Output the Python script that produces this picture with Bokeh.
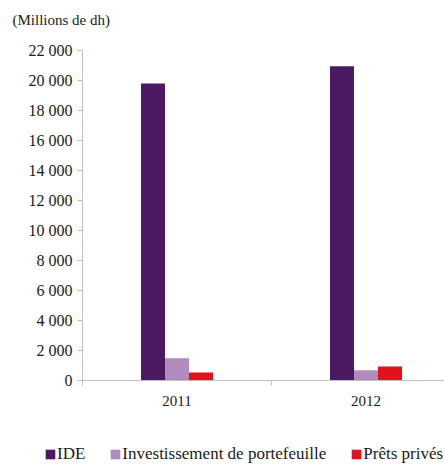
from bokeh.plotting import figure
from bokeh.models import (ColumnDataSource, Range1d, FixedTicker, Legend, LegendItem,
                          LinearAxis, Label)
from bokeh.embed import file_html
from bokeh.resources import INLINE

# ---- data ----
years = ["2011", "2012"]
ide = [19800, 20950]
portefeuille = [1480, 680]
prets = [540, 930]
series_names = ["IDE", "Investissement de portefeuille", "Prêts privés"]
series_colors = ["#4b1a63", "#b08bbb", "#e0121c"]
y_ticks = list(range(0, 22001, 2000))
y_tick_labels = ["{:,}".format(v).replace(",", " ") for v in y_ticks]
unit_title = "(Millions de dh)"

FONT = "'Liberation Serif', 'Times New Roman', serif"

# layout (pixels): canvas 444x465, plot area left 82, zero line at 380 from top,
# one category = 189 px, 1000 units = 15 px
W, H = 444, 465
LEFT, ZERO_Y, CAT_PX, PX_PER_1000 = 82, 380, 189, 15.0

centers = [i + 0.5 for i in range(len(years))]
bar_w = 0.127
offsets = [-bar_w, 0.0, bar_w]

x_range = Range1d(-LEFT / CAT_PX, (W - LEFT) / CAT_PX)
y_range = Range1d(-(H - ZERO_Y) / PX_PER_1000 * 1000, ZERO_Y / PX_PER_1000 * 1000)

p = figure(width=W, height=H, output_backend="svg", toolbar_location=None,
           x_range=x_range, y_range=y_range,
           min_border_left=0, min_border_right=0, min_border_top=0,
           min_border_bottom=0, x_axis_type=None, y_axis_type=None)
p.outline_line_color = None
p.xgrid.visible = False
p.ygrid.visible = False

renderers = []
for vals, off, col in zip([ide, portefeuille, prets], offsets, series_colors):
    src = ColumnDataSource(dict(x=[c + off for c in centers], top=vals))
    r = p.vbar(x="x", top="top", width=bar_w, bottom=0, source=src,
               fill_color=col, line_color=None)
    renderers.append(r)

yaxis = LinearAxis(ticker=FixedTicker(ticks=y_ticks), fixed_location=0,
                   bounds=(0, max(y_ticks)),
                   major_label_overrides={v: l for v, l in zip(y_ticks, y_tick_labels)})
yaxis.axis_line_color = "#c0c0c0"
yaxis.major_tick_line_color = "#c0c0c0"
yaxis.major_tick_out = 5
yaxis.major_tick_in = 0
yaxis.minor_tick_line_color = None
yaxis.major_label_standoff = 5
yaxis.major_label_text_font = FONT
yaxis.major_label_text_font_size = "16px"
yaxis.major_label_text_color = "#1a1a1a"
p.add_layout(yaxis, "left")

xaxis = LinearAxis(ticker=FixedTicker(ticks=centers, minor_ticks=list(range(len(years) + 1))),
                   fixed_location=0, bounds=(0, len(years)),
                   major_label_overrides={c: y for c, y in zip(centers, years)})
xaxis.axis_line_color = "#c0c0c0"
xaxis.major_tick_line_color = None
xaxis.major_tick_out = 0
xaxis.minor_tick_line_color = "#c0c0c0"
xaxis.minor_tick_out = 5
xaxis.minor_tick_in = 0
xaxis.major_label_standoff = 10
xaxis.major_label_text_font = FONT
xaxis.major_label_text_font_size = "15px"
xaxis.major_label_text_color = "#1a1a1a"
p.add_layout(xaxis, "below")

title = Label(x=12, y=H - 11, x_units="screen", y_units="screen", text=unit_title,
              text_font=FONT, text_font_size="15px", text_color="#1a1a1a",
              text_baseline="top", text_align="left")
p.add_layout(title)

legend = Legend(items=[LegendItem(label=n, renderers=[r]) for n, r in zip(series_names, renderers)],
                location=(44, 1), orientation="horizontal",
                glyph_width=12, glyph_height=12, label_standoff=1,
                label_height=12, padding=0, margin=0, spacing=24,
                border_line_color=None, background_fill_alpha=0,
                label_text_font=FONT, label_text_font_size="17px",
                label_text_color="#1a1a1a")
p.add_layout(legend, "center")

open("out.html", "w").write(file_html(p, INLINE))
